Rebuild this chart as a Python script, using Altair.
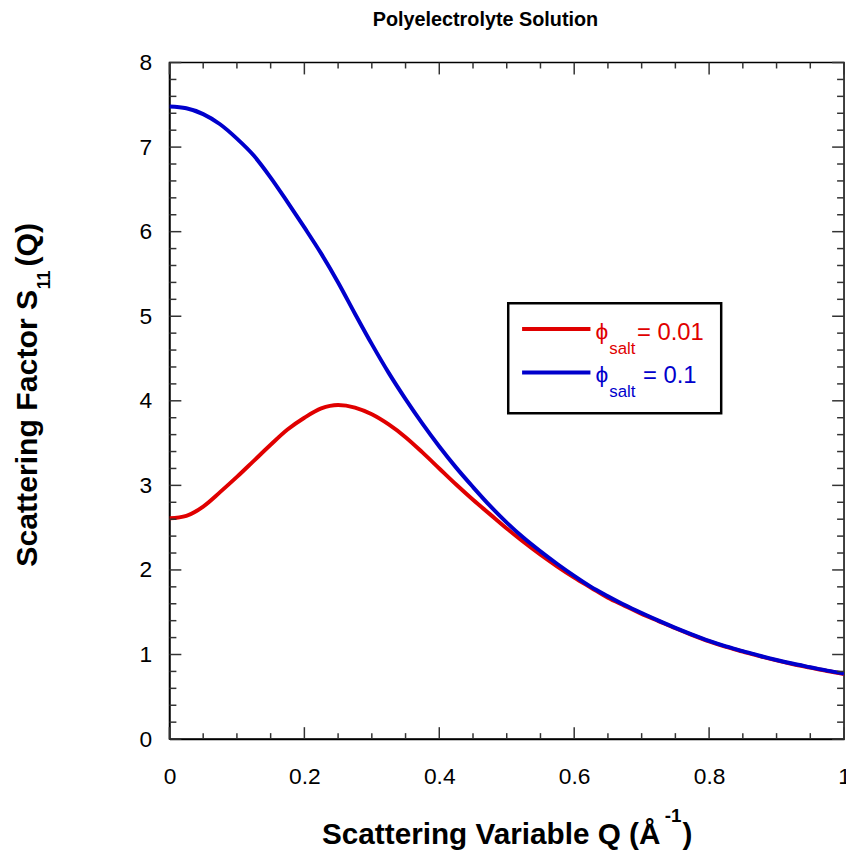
import altair as alt
import pandas as pd

# ---- data ----
q = [0.0, 0.025, 0.05, 0.075, 0.1, 0.125, 0.15, 0.175, 0.2, 0.225, 0.25, 0.275, 0.3,
     0.325, 0.35, 0.375, 0.4, 0.425, 0.45, 0.475, 0.5, 0.525, 0.55, 0.575, 0.6, 0.625,
     0.65, 0.675, 0.7, 0.725, 0.75, 0.775, 0.8, 0.825, 0.85, 0.875, 0.9, 0.925, 0.95,
     0.975, 1.0]
s_salt_001 = [2.61, 2.64, 2.75, 2.92, 3.10, 3.29, 3.48, 3.66, 3.80, 3.91, 3.95, 3.92, 3.84,
              3.72, 3.57, 3.39, 3.20, 3.01, 2.83, 2.66, 2.49, 2.33, 2.18, 2.04, 1.91, 1.79,
              1.67, 1.575, 1.48, 1.395, 1.31, 1.23, 1.155, 1.09, 1.035, 0.98, 0.93, 0.885,
              0.845, 0.805, 0.77]
s_salt_01 = [7.48, 7.46, 7.39, 7.27, 7.10, 6.90, 6.64, 6.35, 6.05, 5.74, 5.40, 5.03, 4.67,
             4.33, 4.02, 3.73, 3.46, 3.21, 2.98, 2.76, 2.56, 2.38, 2.22, 2.07, 1.93, 1.80,
             1.69, 1.585, 1.49, 1.40, 1.315, 1.235, 1.16, 1.095, 1.04, 0.985, 0.935, 0.89,
             0.85, 0.81, 0.775]
series_names = ["0.01", "0.1"]
series_colors = ["#e00000", "#0000cc"]

x_major = [0.0, 0.2, 0.4, 0.6, 0.8, 1.0]
x_minor = [0.05, 0.1, 0.15, 0.25, 0.3, 0.35, 0.45, 0.5, 0.55, 0.65, 0.7, 0.75, 0.85, 0.9, 0.95]
y_major = [0, 1, 2, 3, 4, 5, 6, 7, 8]
y_minor = [v / 5 for v in range(41) if v % 5 != 0]

W, H = 681, 683
FONT = "Liberation Sans"

df = pd.DataFrame({
    "Q": q * 2,
    "S": s_salt_001 + s_salt_01,
    "series": [series_names[0]] * len(q) + [series_names[1]] * len(q),
})

xs = alt.Scale(domain=[0, 1], nice=False, zero=False)
ys = alt.Scale(domain=[0, 8], nice=False, zero=False)

x_axis = alt.Axis(
    values=x_major, ticks=False, grid=False, domain=True, domainColor="black",
    domainWidth=1.5, labelFont=FONT, labelFontSize=23, labelColor="black",
    labelPadding=27, title=None, labelFlush=False,
    labelExpr="datum.value == 0 ? '0' : datum.value == 1 ? '1' : format(datum.value, '.1f')")
y_axis = alt.Axis(
    values=y_major, ticks=False, grid=False, domain=True, domainColor="black",
    domainWidth=1.5, labelFont=FONT, labelFontSize=23, labelColor="black",
    labelPadding=18, title=None, format="d", labelFlush=False)

lines = alt.Chart(df).mark_line(strokeWidth=4, clip=True, interpolate="monotone").encode(
    x=alt.X("Q:Q", scale=xs, axis=x_axis),
    y=alt.Y("S:Q", scale=ys, axis=y_axis),
    color=alt.Color("series:N", scale=alt.Scale(domain=series_names, range=series_colors),
                    legend=None),
    order=alt.Order("series:N"),
)


def tick_layer(values, length, side):
    d = pd.DataFrame({"v": values})
    c = alt.Chart(d).mark_rule(color="#333333", strokeWidth=1.5)
    if side == "bottom":
        return c.encode(x=alt.X("v:Q", scale=xs, axis=x_axis), y=alt.value(H), y2=alt.value(H - length))
    if side == "top":
        return c.encode(x=alt.X("v:Q", scale=xs, axis=x_axis), y=alt.value(0), y2=alt.value(length))
    if side == "left":
        return c.encode(y=alt.Y("v:Q", scale=ys, axis=y_axis), x=alt.value(0), x2=alt.value(length))
    return c.encode(y=alt.Y("v:Q", scale=ys, axis=y_axis), x=alt.value(W), x2=alt.value(W - length))


ticks = []
for side in ["bottom", "top"]:
    ticks.append(tick_layer(x_major, 12, side))
    ticks.append(tick_layer(x_minor, 6, side))
for side in ["left", "right"]:
    ticks.append(tick_layer(y_major, 12, side))
    ticks.append(tick_layer(y_minor, 7, side))

one = pd.DataFrame({"k": [0]})


def label(text, x, y, size, bold=False, color="black", angle=0, align="left"):
    kw = dict(text=text, font=FONT, fontSize=size, color=color, align=align,
              baseline="alphabetic", fontWeight="bold" if bold else "normal")
    if angle:
        kw["angle"] = angle
    return alt.Chart(one).mark_text(**kw).encode(x=alt.value(x), y=alt.value(y))


texts = [
    label("Polyelectrolyte Solution", 319, -37, 20, bold=True, align="center"),
    # x title
    label("Scattering Variable Q (Å", 154, 789, 30, bold=True),
    label("-1", 500, 767, 19, bold=True),
    label(")", 518, 789, 30, bold=True),
    # y title
    label("Scattering Factor S", -134, 509, 30.5, bold=True, angle=270),
    label("11", -121, 229, 18, bold=True, angle=270),
    label("(Q)", -134, 206, 30.5, bold=True, angle=270),
]

legend_box = alt.Chart(one).mark_rect(fill="white", stroke="black", strokeWidth=2.5).encode(
    x=alt.value(342), x2=alt.value(557), y=alt.value(243), y2=alt.value(354))
legend_items = [legend_box]
for i, (name, col) in enumerate(zip(series_names, series_colors)):
    dy = 44 * i
    legend_items.append(alt.Chart(one).mark_rule(color=col, strokeWidth=4).encode(
        x=alt.value(356), x2=alt.value(425), y=alt.value(269 + dy)))
    legend_items.append(label("ϕ", 430, 279 + dy, 23, color=col))
    legend_items.append(label("salt", 444, 294 + dy, 17, color=col))
    legend_items.append(label("= " + name, 472 + 6 * i, 280 + dy, 24, color=col))

chart = alt.layer(lines, *ticks, *legend_items, *texts).properties(
    width=W, height=H,
    autosize=alt.AutoSizeParams(type="none"),
    padding={"left": 163, "top": 51, "right": 2, "bottom": 115},
).configure_view(stroke="black", strokeWidth=1.5)

chart.save("out.html", embed_options={"renderer": "svg", "actions": False})
